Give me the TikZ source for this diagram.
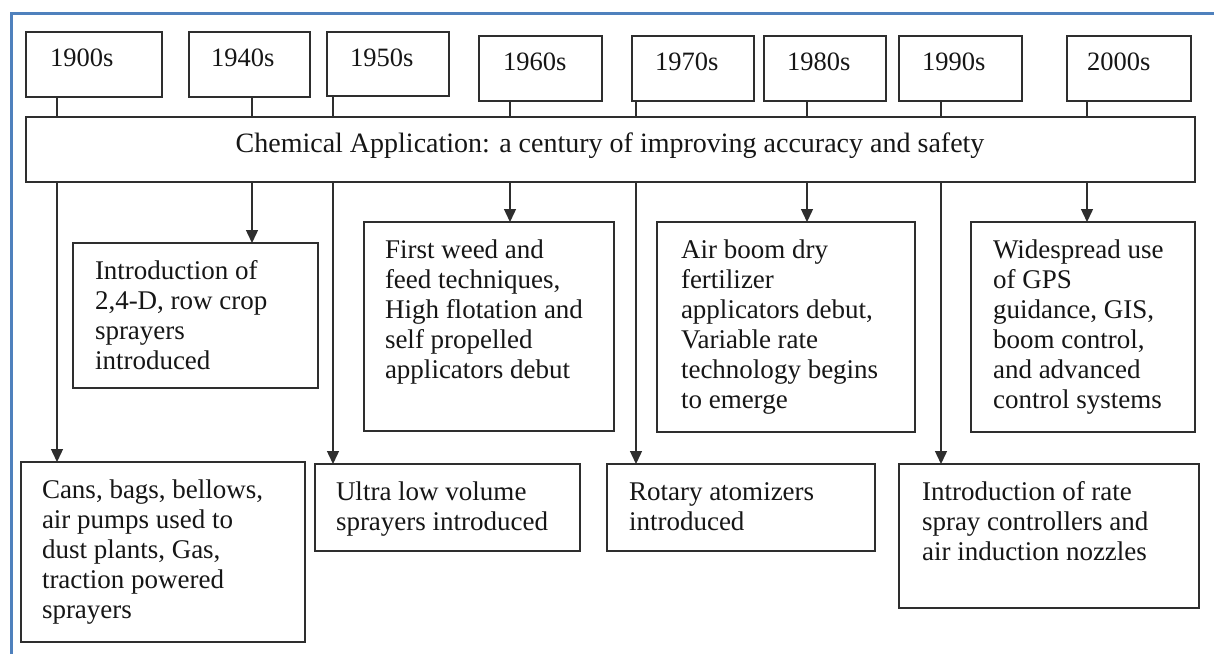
\documentclass[tikz,border=0pt]{standalone}
\usepackage{fontspec}
\setmainfont{Liberation Serif}
\newfontfamily\timesfam{Liberation Serif}
\usetikzlibrary{arrows.meta}
\definecolor{framec}{HTML}{4F81BD}
\definecolor{linec}{HTML}{2E2E2E}
\definecolor{inkc}{HTML}{161616}
\newcommand{\bodyfont}{\timesfam\fontsize{27pt}{30pt}\selectfont}
\newcommand{\yearfont}{\timesfam\fontsize{26.5pt}{30pt}\selectfont}
\newcommand{\titlefont}{\timesfam\fontsize{28pt}{30pt}\selectfont}
\tikzset{
  box/.style={draw=linec, line width=1.4pt, inner sep=0pt, outer sep=0pt, anchor=north west},
  txt/.style={anchor=base west, align=left, inner sep=0pt, outer sep=0pt, text=inkc, font=\bodyfont},
  yr/.style={anchor=base west, inner sep=0pt, outer sep=0pt, text=inkc, font=\yearfont},
  ttl/.style={anchor=base, inner sep=0pt, text=inkc, font=\titlefont},
  link/.style={draw=linec, line width=1.4pt},
  arr/.style={link, -{Triangle[width=12pt,length=13pt]}}
}
\begin{document}
\begin{tikzpicture}[x=1pt,y=-1pt]
\useasboundingbox (0,0) rectangle (1214,653);
\clip (0,0) rectangle (1214,653);
\fill[white] (0,0) rectangle (1214,653);
% outer frame
\draw[framec, line width=3.3pt] (11.7,13.5) rectangle (1400,800);

% decade boxes
\node[box, minimum width=136pt, minimum height=65pt] (y1900) at (26,32) {};
\node[box, minimum width=121pt, minimum height=65pt] (y1940) at (189,32) {};
\node[box, minimum width=122pt, minimum height=64pt] (y1950) at (327,32) {};
\node[box, minimum width=123pt, minimum height=65pt] (y1960) at (479,36) {};
\node[box, minimum width=122pt, minimum height=65pt] (y1970) at (632,36) {};
\node[box, minimum width=122pt, minimum height=65pt] (y1980) at (764,36) {};
\node[box, minimum width=123pt, minimum height=65pt] (y1990) at (899,36) {};
\node[box, minimum width=124pt, minimum height=65pt] (y2000) at (1067,36) {};
\node[yr] (l1900) at (50,66) {1900s};
\node[yr] (l1940) at (211,66) {1940s};
\node[yr] (l1950) at (350,66) {1950s};
\node[yr] (l1960) at (503,70) {1960s};
\node[yr] (l1970) at (655,70) {1970s};
\node[yr] (l1980) at (787,70) {1980s};
\node[yr] (l1990) at (922,70) {1990s};
\node[yr] (l2000) at (1087,70) {2000s};

% title bar
\node[box, minimum width=1169pt, minimum height=65pt] (bar) at (26,117) {};
\node[ttl] (title) at (610,152) {Chemical Application: a century of improving accuracy and safety};

% event boxes
\node[box, minimum width=284pt, minimum height=180pt] (cans) at (21,462) {};
\node[box, minimum width=245pt, minimum height=145pt] (d24) at (73,243) {};
\node[box, minimum width=265pt, minimum height=87pt] (ulv) at (315,464) {};
\node[box, minimum width=250pt, minimum height=209pt] (weed) at (364,222) {};
\node[box, minimum width=268pt, minimum height=87pt] (rot) at (607,464) {};
\node[box, minimum width=258pt, minimum height=210pt] (air) at (657,222) {};
\node[box, minimum width=300pt, minimum height=144pt] (rate) at (899,464) {};
\node[box, minimum width=224pt, minimum height=210pt] (gps) at (971,222) {};

% event texts, placed by the baseline of their last line
\node[txt] (tcans) at (42,618) {Cans, bags, bellows,\\air pumps used to\\dust plants, Gas,\\traction powered\\sprayers};
\node[txt] (td24) at (95,369) {Introduction of\\2,4-D, row crop\\sprayers\\introduced};
\node[txt] (tulv) at (336,530) {Ultra low volume\\sprayers introduced};
\node[txt] (tweed) at (385,378) {First weed and\\feed techniques,\\High flotation and\\self propelled\\applicators debut};
\node[txt] (trot) at (629,530) {Rotary atomizers\\introduced};
\node[txt] (tair) at (681,408) {Air boom dry\\fertilizer\\applicators debut,\\Variable rate\\technology begins\\to emerge};
\node[txt] (trate) at (922,560) {Introduction of rate\\spray controllers and\\air induction nozzles};
\node[txt] (tgps) at (993,408) {Widespread use\\of GPS\\guidance, GIS,\\boom control,\\and advanced\\control systems};

% connector columns
\coordinate (c1900) at (57,0);
\coordinate (c1940) at (252,0);
\coordinate (c1950) at (333,0);
\coordinate (c1960) at (510,0);
\coordinate (c1970) at (636,0);
\coordinate (c1980) at (807,0);
\coordinate (c1990) at (941,0);
\coordinate (c2000) at (1087,0);

% decade boxes to title bar
\foreach \d in {1900,1940,1950,1960,1970,1980,1990,2000}
  \draw[link] (y\d.south -| c\d) -- (bar.north -| c\d);

% title bar to events
\draw[arr] (bar.south -| c1900) -- (cans.north -| c1900);
\draw[arr] (bar.south -| c1940) -- (d24.north -| c1940);
\draw[arr] (bar.south -| c1950) -- (ulv.north -| c1950);
\draw[arr] (bar.south -| c1960) -- (weed.north -| c1960);
\draw[arr] (bar.south -| c1970) -- (rot.north -| c1970);
\draw[arr] (bar.south -| c1980) -- (air.north -| c1980);
\draw[arr] (bar.south -| c1990) -- (rate.north -| c1990);
\draw[arr] (bar.south -| c2000) -- (gps.north -| c2000);
\end{tikzpicture}
\end{document}
